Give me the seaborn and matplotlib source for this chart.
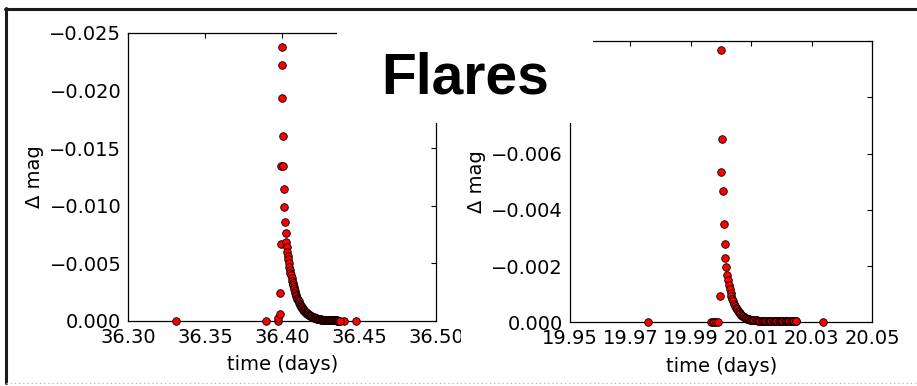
import matplotlib
matplotlib.use("Agg")
import matplotlib.pyplot as plt
import seaborn as sns
import pandas as pd
from matplotlib.ticker import FuncFormatter
from matplotlib.patches import Rectangle
from matplotlib.lines import Line2D

# ---------------- data ----------------
title = "Flares"
xlabel = "time (days)"
ylabel = "\u0394 mag"

# left flare: isolated / rise / peak points
left_t_peak = [36.3310, 36.3896, 36.3970, 36.3975, 36.3987, 36.3989, 36.3990, 36.3994,
               36.3998, 36.4000, 36.4002, 36.4006, 36.4008, 36.4010, 36.4015, 36.4017,
               36.4022, 36.4026, 36.4402, 36.4478]
left_m_peak = [0.0, 0.0, 0.0, -0.00023, -0.00058, -0.00243, -0.00668, -0.01345,
               -0.02222, -0.02378, -0.01938, -0.01603, -0.01345, -0.01143, -0.00987, -0.00862,
               -0.00764, -0.00683, 0.0, 0.0]
# left flare: dense decay
left_t_decay = [36.40295, 36.4033, 36.40365, 36.4040, 36.40435, 36.4047, 36.40505, 36.4054,
                36.40575, 36.4061, 36.40645, 36.4068, 36.40715, 36.4075, 36.40785, 36.4082,
                36.40855, 36.4089, 36.40925, 36.4096, 36.40995, 36.4103, 36.41065, 36.4110,
                36.41135, 36.4117, 36.41205, 36.4124, 36.41275, 36.4131, 36.41345, 36.4138,
                36.41415, 36.4145, 36.41485, 36.4152, 36.41555, 36.4159, 36.41625, 36.4166,
                36.41695, 36.4173, 36.41765, 36.4180, 36.41835, 36.4187, 36.41905, 36.4194,
                36.41975, 36.4201, 36.42045, 36.4208, 36.42115, 36.4215, 36.42185, 36.4222,
                36.42255, 36.4229, 36.42325, 36.4236, 36.42395, 36.4243, 36.42465, 36.4250,
                36.42535, 36.4257, 36.42605, 36.4264, 36.42675, 36.4271, 36.42745, 36.4278,
                36.42815, 36.4285, 36.42885, 36.4292, 36.42955, 36.4299, 36.43025, 36.4306,
                36.43095, 36.4313, 36.43165, 36.4320, 36.43235, 36.4327, 36.43305, 36.4334,
                36.43375, 36.4341, 36.43445, 36.4348, 36.43515, 36.4355, 36.43585, 36.4362,
                36.43655, 36.4369, 36.43725, 36.4376]
left_m_decay = [-0.00642, -0.00603, -0.00567, -0.00534, -0.00503, -0.00473, -0.00445, -0.00419,
                -0.00395, -0.00372, -0.00350, -0.00329, -0.00310, -0.00292, -0.00275, -0.00259,
                -0.00244, -0.00229, -0.00216, -0.00203, -0.00191, -0.00180, -0.00170, -0.00160,
                -0.00150, -0.00141, -0.00133, -0.00125, -0.00118, -0.00111, -0.00104, -0.00098,
                -0.00092, -0.00087, -0.00082, -0.00077, -0.00072, -0.00068, -0.00064, -0.00061,
                -0.00057, -0.00054, -0.00051, -0.00048, -0.00045, -0.00042, -0.00040, -0.00037,
                -0.00035, -0.00033, -0.00031, -0.00029, -0.00027, -0.00026, -0.00024, -0.00023,
                -0.00021, -0.00020, -0.00019, -0.00018, -0.00017, -0.00016, -0.00015, -0.00014,
                -0.00013, -0.00013, -0.00012, -0.00011, -0.00011, -0.00010, -0.00010, -0.00009,
                -0.00009, -0.00008, -0.00008, -0.00008, -0.00007, -0.00007, -0.00007, -0.00007,
                -0.00006, -0.00006, -0.00006, -0.00006, -0.00006, -0.00006, -0.00005, -0.00005,
                -0.00005, -0.00005, -0.00005, -0.00005, -0.00005, -0.00005, -0.00004, -0.00004,
                -0.00004, -0.00004, -0.00004, -0.00004]

# right flare: isolated / rise / peak points
right_t_peak = [19.9758, 19.9966, 19.9972, 19.9978, 19.9984, 19.9990, 19.9995, 19.9998,
                20.0000, 20.0003, 20.0006, 20.0010, 20.0012, 20.0014, 20.0016, 20.0019,
                20.0337]
right_m_peak = [0.0, 0.0, 0.0, 0.0, 0.0, 0.0, -0.00095, -0.00535,
                -0.00968, -0.00652, -0.00465, -0.00350, -0.00278, -0.00229, -0.00195, -0.00167,
                0.0]
# right flare: dense decay
right_t_decay = [20.0022, 20.0025, 20.0028, 20.0031, 20.0034, 20.0037, 20.0040, 20.0043,
                 20.0046, 20.0049, 20.0052, 20.0055, 20.0058, 20.0061, 20.0064, 20.0067,
                 20.0070, 20.0073, 20.0076, 20.0079, 20.0082, 20.0085, 20.0088, 20.0091,
                 20.0094, 20.0098, 20.0102, 20.0106, 20.0110, 20.0114, 20.0118, 20.0122,
                 20.0126, 20.0130, 20.0134, 20.0138, 20.0142, 20.0146, 20.0150, 20.0154,
                 20.0158, 20.0162, 20.0166, 20.0170, 20.0174, 20.0178, 20.0182, 20.0186,
                 20.0190, 20.0194, 20.0198, 20.0202, 20.0206, 20.0210, 20.0214, 20.0218,
                 20.0222, 20.0226, 20.0230, 20.0234, 20.0238, 20.0242, 20.0246, 20.0249]
right_m_decay = [-0.00149, -0.00132, -0.00118, -0.00105, -0.00093, -0.00083, -0.00074, -0.00066,
                 -0.00059, -0.00052, -0.00047, -0.00041, -0.00037, -0.00033, -0.00029, -0.00026,
                 -0.00023, -0.00021, -0.00018, -0.00016, -0.00015, -0.00013, -0.00012, -0.00010,
                 -0.00009, -0.00009, -0.00008, -0.00008, -0.00007, -0.00007, -0.00007, -0.00006,
                 -0.00006, -0.00006, -0.00006, -0.00005, -0.00005, -0.00005, -0.00005, -0.00005,
                 -0.00005, -0.00004, -0.00004, -0.00004, -0.00004, -0.00004, -0.00004, -0.00004,
                 -0.00004, -0.00004, -0.00003, -0.00003, -0.00003, -0.00003, -0.00003, -0.00003,
                 -0.00003, -0.00003, -0.00003, -0.00003, -0.00003, -0.00003, -0.00003, -0.00003]

left_xticks = [36.30, 36.35, 36.40, 36.45, 36.50]
left_yticks = [0.0, -0.005, -0.010, -0.015, -0.020, -0.025]
right_xticks = [19.95, 19.97, 19.99, 20.01, 20.03, 20.05]
right_yticks = [0.0, -0.002, -0.004, -0.006, -0.008, -0.010]
right_hidden_ylabels = [-0.008, -0.010]   # covered by the title box in the reference

# ---------------- style ----------------
sns.set_theme(style="white")
plt.rcParams.update({
    "font.family": ["DejaVu Sans"],
    "text.color": "black", "axes.labelcolor": "black",
    "xtick.direction": "in", "ytick.direction": "in",
    "xtick.top": True, "ytick.right": True,
    "xtick.major.size": 3.5, "ytick.major.size": 3.5,
    "xtick.major.width": 0.8, "ytick.major.width": 0.8,
    "xtick.color": "black", "ytick.color": "black",
    "axes.edgecolor": "black", "axes.linewidth": 0.9,
    "xtick.labelsize": 14, "ytick.labelsize": 14,
    "axes.labelsize": 14,
    "xtick.major.pad": 5, "ytick.major.pad": 5,
})

W, H = 917, 386
fig = plt.figure(figsize=(W / 100, H / 100), dpi=100)
fig.patch.set_facecolor("white")


def fx(px):
    return px / W


def fy(py):
    return 1 - py / H


ax1 = fig.add_axes([fx(128.3), fy(321), fx(436) - fx(128.3), fy(33) - fy(321)], zorder=0)
ax2 = fig.add_axes([fx(570), fy(322.3), fx(872.3) - fx(570), fy(41) - fy(322.3)], zorder=2)


def minus_fmt(fmt, hidden=()):
    def f(v, p):
        if any(abs(v - h) < 1e-9 for h in hidden):
            return ""
        if abs(v) < 1e-12:
            return fmt % 0.0
        return (fmt % v).replace("-", "\u2212")
    return FuncFormatter(f)


def draw(ax, tp, mp, td, md, xlim, ylim, xt, yt, hidden=()):
    df = pd.DataFrame({"t": list(tp) + list(td), "m": list(mp) + list(md)})
    sns.scatterplot(data=df, x="t", y="m", ax=ax, color="#ff0000", edgecolor="black",
                    linewidth=0.6, s=30, zorder=3, clip_on=False)
    ax.set_xlim(*xlim)
    ax.set_ylim(*ylim)
    ax.set_xticks(xt)
    ax.set_yticks(yt)
    ax.xaxis.set_major_formatter(minus_fmt("%.2f"))
    ax.yaxis.set_major_formatter(minus_fmt("%.3f", hidden))
    ax.set_xlabel(xlabel, labelpad=6)
    ax.set_ylabel(ylabel, labelpad=4)
    for s in ax.spines.values():
        s.set_visible(True)


draw(ax1, left_t_peak, left_m_peak, left_t_decay, left_m_decay,
     (36.30, 36.50), (0.0, -0.025), left_xticks, left_yticks)
draw(ax2, right_t_peak, right_m_peak, right_t_decay, right_m_decay,
     (19.95, 20.05), (0.0, -0.010), right_xticks, right_yticks, right_hidden_ylabels)

# crop of the left chart image (cuts the "36.50" label)
fig.patches.append(Rectangle((fx(460.5), fy(355)), fx(540) - fx(460.5), fy(324) - fy(355),
                             transform=fig.transFigure, facecolor="white", edgecolor="none",
                             zorder=1))
# title box covering corners of both charts
fig.patches.append(Rectangle((fx(337), fy(123.3)), fx(593.3) - fx(337), fy(0) - fy(123.3),
                             transform=fig.transFigure, facecolor="white", edgecolor="none",
                             zorder=3))
fig.text(fx(465.5), fy(94), title, ha="center", va="baseline", fontsize=41,
         fontweight="bold", color="black", family=["Liberation Sans", "DejaVu Sans"], zorder=4)

# slide frame
fig.lines.append(Line2D([fx(5), fx(917)], [fy(9), fy(9)], transform=fig.transFigure,
                        color="#1a1a1a", lw=2.2, zorder=5))
fig.lines.append(Line2D([fx(6), fx(6)], [fy(8), fy(383)], transform=fig.transFigure,
                        color="#1a1a1a", lw=2.2, zorder=5))
fig.lines.append(Line2D([fx(6), fx(917)], [fy(383), fy(383)], transform=fig.transFigure,
                        color="#bbbbbb", lw=1.0, ls=(0, (1, 2)), zorder=5))

fig.savefig("out.png", dpi=100, facecolor="white")
